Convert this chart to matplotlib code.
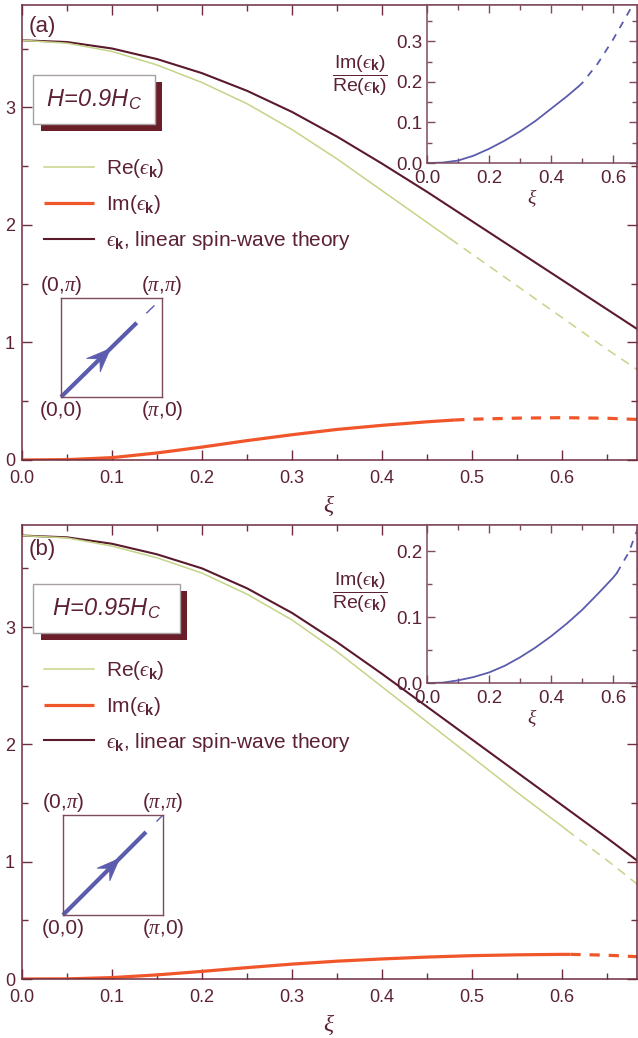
import numpy as np
import matplotlib
matplotlib.use("Agg")
import matplotlib.pyplot as plt
from matplotlib.patches import Rectangle, Polygon
from matplotlib.ticker import MultipleLocator, FormatStrFormatter

plt.rcParams['font.family'] = ['Liberation Sans', 'DejaVu Sans']
plt.rcParams['mathtext.fontset'] = 'custom'
plt.rcParams['mathtext.rm'] = 'Liberation Sans'
plt.rcParams['mathtext.it'] = 'Liberation Serif:italic'
plt.rcParams['mathtext.bf'] = 'Liberation Sans:bold'
plt.rcParams['mathtext.sf'] = 'Liberation Sans:italic'
plt.rcParams['mathtext.fallback'] = 'cm'

# ---------------- data: panel (a) H = 0.9 Hc ----------------
xi_a = [0.0, 0.05, 0.1, 0.15, 0.2, 0.25, 0.3, 0.35, 0.4, 0.45, 0.5, 0.55, 0.6, 0.65, 0.683]
lswt_a = [3.57, 3.555, 3.50, 3.41, 3.29, 3.14, 2.96, 2.75, 2.52, 2.28, 2.03, 1.78, 1.53, 1.28, 1.115]
xi_re_a = [0.0, 0.05, 0.1, 0.15, 0.2, 0.25, 0.3, 0.35, 0.4, 0.45, 0.476, 0.5, 0.55, 0.6, 0.65, 0.683]
re_a = [3.57, 3.545, 3.475, 3.36, 3.21, 3.03, 2.81, 2.56, 2.29, 2.02, 1.88, 1.75, 1.48, 1.21, 0.94, 0.77]
re_cut_a = 0.476
xi_im_a = [0.0, 0.05, 0.1, 0.15, 0.2, 0.25, 0.3, 0.35, 0.4, 0.45, 0.48, 0.5, 0.55, 0.6, 0.65, 0.683]
im_a = [0.0, 0.003, 0.02, 0.06, 0.11, 0.165, 0.215, 0.26, 0.295, 0.325, 0.34, 0.347, 0.356, 0.36, 0.355, 0.345]
im_cut_a = 0.48
xi_ratio_a = [0.0, 0.05, 0.1, 0.15, 0.2, 0.25, 0.3, 0.35, 0.4, 0.45, 0.487, 0.5, 0.55, 0.6, 0.65, 0.68]
ratio_a = [0.0, 0.001, 0.006, 0.018, 0.035, 0.055, 0.078, 0.104, 0.134, 0.164, 0.188, 0.197, 0.245, 0.305, 0.372, 0.415]
ratio_cut_a = 0.487

# ---------------- data: panel (b) H = 0.95 Hc ----------------
xi_b = [0.0, 0.05, 0.1, 0.15, 0.2, 0.25, 0.3, 0.35, 0.4, 0.45, 0.5, 0.55, 0.6, 0.65, 0.683]
lswt_b = [3.78, 3.765, 3.71, 3.62, 3.50, 3.33, 3.12, 2.87, 2.60, 2.32, 2.04, 1.76, 1.48, 1.20, 1.01]
xi_re_b = [0.0, 0.05, 0.1, 0.15, 0.2, 0.25, 0.3, 0.35, 0.4, 0.45, 0.5, 0.55, 0.6, 0.605, 0.65, 0.683]
re_b = [3.78, 3.76, 3.69, 3.59, 3.46, 3.28, 3.06, 2.79, 2.49, 2.19, 1.89, 1.59, 1.30, 1.27, 1.01, 0.81]
re_cut_b = 0.605
xi_im_b = [0.0, 0.05, 0.1, 0.15, 0.2, 0.25, 0.3, 0.35, 0.4, 0.45, 0.5, 0.55, 0.6, 0.609, 0.65, 0.683]
im_b = [0.0, 0.001, 0.012, 0.035, 0.065, 0.097, 0.127, 0.152, 0.171, 0.187, 0.199, 0.206, 0.21, 0.21, 0.203, 0.19]
im_cut_b = 0.609
xi_ratio_b = [0.0, 0.05, 0.1, 0.15, 0.2, 0.25, 0.3, 0.35, 0.4, 0.45, 0.5, 0.55, 0.6, 0.612, 0.65, 0.68]
ratio_b = [0.0, 0.0005, 0.004, 0.009, 0.016, 0.026, 0.039, 0.054, 0.071, 0.090, 0.111, 0.135, 0.160, 0.167, 0.198, 0.235]
ratio_cut_b = 0.612

EPS = '\u03f5'
panel_labels = ['(a)', '(b)']
field_labels = [r'$\mathsf{H\!=\!0.9H_C}$', r'$\mathsf{H\!=\!0.95H_C}$']
legend_labels = ['Re($' + EPS + r'_{\mathbf{k}}$)', 'Im($' + EPS + r'_{\mathbf{k}}$)',
                 '$' + EPS + r'_{\mathbf{k}}$, linear spin-wave theory']
ratio_label = (r'$\dfrac{\mathrm{Im}(' + EPS + r'_{\mathbf{k}})}{\mathrm{Re}(' + EPS +
               r'_{\mathbf{k}})}$')
corner_labels = [r'(0,$\pi$)', r'($\pi$,$\pi$)', r'(0,0)', r'($\pi$,0)']

# colors
C_LSWT = '#5a1a2c'
C_RE = '#c5d487'
C_IM = '#f0562a'
C_BLUE = '#5b5cad'
C_AX = '#6e2c3e'
C_TXT = '#5c2234'
C_INAX = '#7d4a60'
C_SHADOW = '#6a1e2a'

W, H = 638.0, 1038.0
def px_rect(l, t, r, b):
    return [l / W, 1 - b / H, (r - l) / W, (b - t) / H]

fig = plt.figure(figsize=(6.38, 10.38), dpi=100)

cfg = [
    dict(main=px_rect(22, 5, 637, 460), inset=px_rect(427, 5, 637, 163),
         square=px_rect(61, 298, 162, 397),
         xi=xi_a, lswt=lswt_a, xre=xi_re_a, re=re_a, rcut=re_cut_a,
         xim=xi_im_a, im=im_a, icut=im_cut_a,
         xr=xi_ratio_a, ratio=ratio_a, rtcut=ratio_cut_a, rylim=0.39,
         box=(0.018, 0.7385, 0.2163, 0.8462), shadow=(0.031, 0.7231, 0.2276, 0.8308),
         leg_y=0.665, lab_y=0.952, frac_y=0.55,
         sq_solid=0.75, sq_dash=(0.85, 0.92), sq_tip=0.49, sq_L=0.24, sq_W=0.096),
    dict(main=px_rect(22, 525, 637, 979), inset=px_rect(427, 525, 637, 683),
         square=px_rect(63, 815, 163, 915),
         xi=xi_b, lswt=lswt_b, xre=xi_re_b, re=re_b, rcut=re_cut_b,
         xim=xi_im_b, im=im_b, icut=im_cut_b,
         xr=xi_ratio_b, ratio=ratio_b, rtcut=ratio_cut_b, rylim=0.24,
         box=(0.018, 0.762, 0.257, 0.870), shadow=(0.031, 0.747, 0.268, 0.855),
         leg_y=0.705, lab_y=0.946, frac_y=0.57,
         sq_solid=0.83, sq_dash=(0.94, 0.99), sq_tip=0.567, sq_L=0.23, sq_W=0.09),
]

def split(x, y, cut):
    x = np.asarray(x); y = np.asarray(y)
    s = x <= cut + 1e-9
    d = x >= cut - 1e-9
    return x[s], y[s], x[d], y[d]

def style_axes(ax, col, lab, size, maj, mnr, xpad, ypad):
    for sp in ax.spines.values():
        sp.set_color(col)
        sp.set_linewidth(1.1)
    ax.tick_params(which='both', direction='in', top=True, right=True,
                   color=col, labelcolor=lab, labelsize=size, width=1.0)
    ax.tick_params(which='major', length=maj)
    ax.tick_params(which='minor', length=mnr)
    ax.tick_params(axis='x', which='both', pad=xpad)
    ax.tick_params(axis='y', which='both', pad=ypad)

for i, c in enumerate(cfg):
    ax = fig.add_axes(c['main'])
    ax.set_xlim(0, 0.683)
    ax.set_ylim(0, 3.87)
    ax.xaxis.set_major_locator(MultipleLocator(0.1))
    ax.xaxis.set_minor_locator(MultipleLocator(0.05))
    ax.yaxis.set_major_locator(MultipleLocator(1))
    ax.yaxis.set_minor_locator(MultipleLocator(0.5))
    ax.xaxis.set_major_formatter(FormatStrFormatter('%.1f'))
    ax.yaxis.set_major_formatter(FormatStrFormatter('%d'))
    style_axes(ax, C_AX, C_TXT, 13, 7, 4, 7, 5)
    ax.set_xlabel(r'$\xi$', fontsize=17, color=C_TXT, labelpad=5)

    # curves
    (l_lswt,) = ax.plot(c['xi'], c['lswt'], color=C_LSWT, lw=1.5)
    xs, ys, xd, yd = split(c['xre'], c['re'], c['rcut'])
    (l_re,) = ax.plot(xs, ys, color=C_RE, lw=1.1)
    ax.plot(xd, yd, color=C_RE, lw=1.1, dashes=(6, 4.5))
    xs, ys, xd, yd = split(c['xim'], c['im'], c['icut'])
    (l_im,) = ax.plot(xs, ys, color=C_IM, lw=2.3, solid_capstyle='butt')
    ax.plot(xd, yd, color=C_IM, lw=2.3, dashes=(3.2, 2.8))

    ax.text(0.033, c['lab_y'], panel_labels[i], transform=ax.transAxes,
            ha='center', va='center', fontsize=16, color=C_TXT)

    # field box with shadow
    x0, y0, x1, y1 = c['shadow']
    ax.add_patch(Rectangle((x0, y0), x1 - x0, y1 - y0, transform=ax.transAxes,
                           facecolor=C_SHADOW, edgecolor='none', zorder=5))
    x0, y0, x1, y1 = c['box']
    ax.add_patch(Rectangle((x0, y0), x1 - x0, y1 - y0, transform=ax.transAxes,
                           facecolor='white', edgecolor='#a8a0a0', lw=1.0, zorder=6))
    ax.text((x0 + x1) / 2, (y0 + y1) / 2, field_labels[i], transform=ax.transAxes,
            ha='center', va='center', fontsize=17, color=C_TXT, zorder=7)

    leg = ax.legend([l_re, l_im, l_lswt], legend_labels, loc='upper left',
                    bbox_to_anchor=(0.035, c['leg_y']), frameon=False, fontsize=15,
                    handlelength=2.4, handletextpad=0.6, labelspacing=0.62,
                    borderpad=0, borderaxespad=0)
    for t in leg.get_texts():
        t.set_color(C_TXT)

    # inset: ratio
    axi = fig.add_axes(c['inset'])
    axi.set_facecolor('white')
    axi.set_xlim(0, 0.677)
    axi.set_ylim(0, c['rylim'])
    axi.xaxis.set_major_locator(MultipleLocator(0.2))
    axi.xaxis.set_minor_locator(MultipleLocator(0.1))
    axi.yaxis.set_major_locator(MultipleLocator(0.1))
    axi.yaxis.set_minor_locator(MultipleLocator(0.05))
    axi.xaxis.set_major_formatter(FormatStrFormatter('%.1f'))
    axi.yaxis.set_major_formatter(FormatStrFormatter('%.1f'))
    style_axes(axi, C_INAX, C_TXT, 13.5, 6, 3.5, 5, 3)
    xs, ys, xd, yd = split(c['xr'], c['ratio'], c['rtcut'])
    axi.plot(xs, ys, color=C_BLUE, lw=1.3)
    axi.plot(xd, yd, color=C_BLUE, lw=1.3, dashes=(4, 4))
    axi.set_xlabel(r'$\xi$', fontsize=14, color=C_TXT, labelpad=0)
    axi.text(-0.32, c['frac_y'], ratio_label,
             transform=axi.transAxes, ha='center', va='center', fontsize=14, color=C_TXT)

    # schematic Brillouin-zone square with arrow
    axs = fig.add_axes(c['square'])
    axs.set_xlim(0, 1); axs.set_ylim(0, 1)
    axs.set_xticks([]); axs.set_yticks([])
    axs.patch.set_alpha(0)
    for sp in axs.spines.values():
        sp.set_color(C_INAX); sp.set_linewidth(1.0)
    f = c['sq_solid']
    axs.plot([0, f], [0, f], color=C_BLUE, lw=3.0, solid_capstyle='butt', clip_on=False)
    d0, d1 = c['sq_dash']
    axs.plot([d0, d1], [d0, d1], color=C_BLUE, lw=1.0, clip_on=False)
    tip = np.array([c['sq_tip'], c['sq_tip']])
    dv = np.array([1, 1]) / np.sqrt(2)
    pv = np.array([-1, 1]) / np.sqrt(2)
    L, Wd = c['sq_L'], c['sq_W']
    head = [tip, tip - L * dv + Wd * pv, tip - 0.62 * L * dv, tip - L * dv - Wd * pv]
    axs.add_patch(Polygon(head, closed=True, facecolor=C_BLUE, edgecolor=C_BLUE, lw=0.5))
    for (tx, ty), lab in zip([(0.0, 1.13), (1.0, 1.13), (0.0, -0.14), (1.0, -0.14)], corner_labels):
        axs.text(tx, ty, lab, transform=axs.transAxes, ha='center', va='center',
                 fontsize=15, color=C_TXT, clip_on=False)

fig.savefig('out.png', dpi=100)
